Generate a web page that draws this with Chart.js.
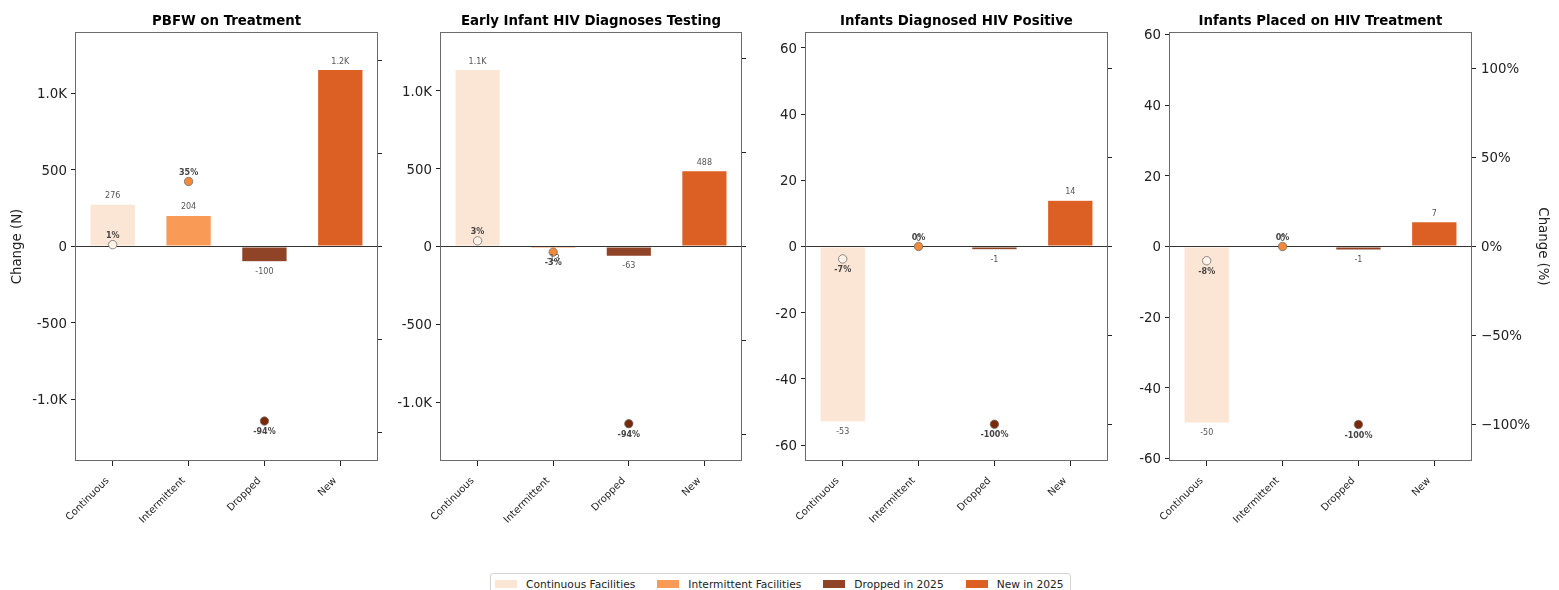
<!DOCTYPE html>
<html><head><meta charset="utf-8">
<script src="https://cdn.jsdelivr.net/npm/chart.js@4.4.1/dist/chart.umd.min.js"></script>
<style>
html,body{margin:0;padding:0;background:#fff;}
body{width:1559px;height:590px;position:relative;overflow:hidden;font-family:'DejaVu Sans',sans-serif;}
canvas{position:absolute;top:0;}
#legend{position:absolute;left:490px;top:573px;width:581px;height:30px;box-sizing:border-box;border:1px solid #d3d3d3;border-radius:3px;background:#fff;display:flex;align-items:center;padding:0 0 8px 4px;z-index:10;}
.item{display:flex;align-items:center;margin-right:22px;font-size:10.67px;color:#222;line-height:13px;white-space:nowrap;}
.patch{width:22px;height:8px;margin-right:9px;}
</style></head><body>
<div id="legend"></div>
<script>
// ---- data ----
const categories = ['Continuous', 'Intermittent', 'Dropped', 'New'];
const seriesNames = ['Continuous Facilities', 'Intermittent Facilities', 'Dropped in 2025', 'New in 2025'];
const panelTitles = ['PBFW on Treatment', 'Early Infant HIV Diagnoses Testing', 'Infants Diagnosed HIV Positive', 'Infants Placed on HIV Treatment'];

const pbfwChange = [276, 204, -100, 1157];
const pbfwPct = [1, 35, -94, null];
const eidChange = [1137, -13, -63, 488];
const eidPct = [3, -3, -94, null];
const posChange = [-53, 0, -1, 14];
const posPct = [-7, 0, -100, null];
const txChange = [-50, 0, -1, 7];
const txPct = [-8, 0, -100, null];

const countTicksLarge = [-1000, -500, 0, 500, 1000];
const countTicksSmall = [-60, -40, -20, 0, 20, 40, 60];
const pctTicks = [-100, -50, 0, 50, 100];

// ---- styles / layout ----
const barColors = ['#fbe5d4', '#f99b56', '#8f4427', '#dc5f24'];
const dotColors = ['#fef3e9', '#f5893a', '#7a2a08', '#dc5f24'];
const FONT = "'DejaVu Sans', sans-serif";

const panels = [
  {title: panelTitles[0], change: pbfwChange, pct: pbfwPct, ticks: countTicksLarge, cl: 0,    cr: 400,  al: 76,   ar: 377,  yMax: 1402, pMax: 115.5},
  {title: panelTitles[1], change: eidChange,  pct: eidPct,  ticks: countTicksLarge, cl: 385,  cr: 765,  al: 441,  ar: 741,  yMax: 1378, pMax: 113.8},
  {title: panelTitles[2], change: posChange,  pct: posPct,  ticks: countTicksSmall, cl: 750,  cr: 1130, al: 806,  ar: 1107, yMax: 64.8, pMax: 120.7},
  {title: panelTitles[3], change: txChange,   pct: txPct,   ticks: countTicksSmall, cl: 1115, cr: 1559, al: 1170, ar: 1471, yMax: 60.7, pMax: 120.5}
];

const fmtCount = v => Math.abs(v) >= 1000 ? (v / 1000).toFixed(1) + 'K' : String(Math.round(v));
const fmtPctTick = v => (v < 0 ? '\u2212' : '') + Math.abs(v) + '%';
const fmtPctLabel = v => Math.round(v) + '%';

const decor = {
  id: 'decor',
  afterDatasetDraw(chart, args) {
    if (args.meta.type !== 'bar') return;
    const {ctx, chartArea: a} = chart;
    const y0 = Math.round(chart.scales.y.getPixelForValue(0)) + 0.5;
    ctx.save();
    ctx.strokeStyle = '#333'; ctx.lineWidth = 1;
    ctx.beginPath(); ctx.moveTo(a.left, y0); ctx.lineTo(a.right, y0); ctx.stroke();
    ctx.restore();
  },
  afterDatasetsDraw(chart) {
    const {ctx} = chart;
    ctx.save();
    ctx.textAlign = 'center'; ctx.textBaseline = 'middle';
    chart.data.datasets.forEach((ds, di) => {
      const meta = chart.getDatasetMeta(di);
      meta.data.forEach((el, i) => {
        const v = ds.data[i].y;
        if (ds.type === 'bar') {
          ctx.font = '8px ' + FONT; ctx.fillStyle = '#555';
          ctx.fillText(fmtCount(v), el.x, v >= 0 ? el.y - 8 : el.y + 10);
        } else {
          ctx.font = 'bold 8px ' + FONT; ctx.fillStyle = '#444';
          ctx.fillText(fmtPctLabel(v), el.x, v >= 0 ? el.y - 8.5 : el.y + 11);
        }
      });
    });
    ctx.restore();
  },
  afterDraw(chart) {
    const {ctx, chartArea: a} = chart;
    ctx.save();
    ctx.strokeStyle = '#6b6b6b'; ctx.lineWidth = 1;
    ctx.strokeRect(Math.round(a.left) - 0.5, Math.round(a.top) + 0.5, Math.round(a.right - a.left) + 1, Math.round(a.bottom - a.top) - 1);
    ctx.restore();
  }
};

const tickGrid = {drawOnChartArea: false, drawTicks: true, tickLength: 5, color: '#222', lineWidth: 1, offset: false};

panels.forEach((pn, k) => {
  const cv = document.createElement('canvas');
  const W = pn.cr - pn.cl, H = 590;
  cv.width = W; cv.height = H;
  cv.style.left = pn.cl + 'px';
  cv.style.width = W + 'px'; cv.style.height = H + 'px';
  document.body.insertBefore(cv, document.getElementById('legend'));

  const barData = pn.change.map((v, i) => ({x: i, y: v}));
  const dotData = [], dotFill = [];
  pn.pct.forEach((v, i) => { if (v !== null) { dotData.push({x: i, y: v}); dotFill.push(dotColors[i]); } });

  const isLast = k === panels.length - 1;
  const leftW = pn.al - pn.cl, rightW = pn.cr - pn.ar;

  new Chart(cv, {
    type: 'bar',
    data: {
      datasets: [
        {type: 'bar', data: barData, xAxisID: 'x', yAxisID: 'y', backgroundColor: barColors,
         borderColor: 'rgba(255,255,255,0.5)', borderWidth: 0.6, borderSkipped: false,
         categoryPercentage: 1, barPercentage: 0.6, order: 2},
        {type: 'scatter', data: dotData, xAxisID: 'x', yAxisID: 'y2', pointRadius: 4.2,
         pointBackgroundColor: dotFill, pointBorderColor: '#707070', pointBorderWidth: 0.8, order: 1}
      ]
    },
    options: {
      responsive: false, animation: false, devicePixelRatio: 1,
      layout: {autoPadding: false, padding: 0},
      plugins: {
        legend: {display: false}, tooltip: {enabled: false},
        title: {display: true, text: pn.title, fullSize: false, color: '#000',
                font: {family: FONT, size: 13.33, weight: 'bold', lineHeight: 1.2}, padding: {top: 13.5, bottom: 2.5}},
        decor: {}
      },
      scales: {
        x: {
          type: 'linear', min: -0.484, max: 3.484, offset: false,
          border: {display: false}, grid: tickGrid,
          afterBuildTicks: s => { s.ticks = categories.map((c, i) => ({value: i})); },
          afterFit: s => { s.height = H - 461; },
          ticks: {autoSkip: false, maxRotation: 45, minRotation: 45, padding: 9, labelOffset: -5, color: '#222',
                  font: {family: FONT, size: 10}, callback: v => categories[Math.round(v)]}
        },
        y: {
          type: 'linear', position: 'left', min: -pn.yMax, max: pn.yMax,
          border: {display: false}, grid: tickGrid,
          afterBuildTicks: s => { s.ticks = pn.ticks.map(v => ({value: v})); },
          afterFit: s => { s.width = leftW; },
          ticks: {padding: 4, labelOffset: 1.5, color: '#222', font: {family: FONT, size: 13.33}, callback: v => fmtCount(v)},
          title: {display: k === 0, text: 'Change (N)', color: '#222', font: {family: FONT, size: 13.33, lineHeight: 1.2}, padding: {top: 10, bottom: 0}}
        },
        y2: {
          type: 'linear', position: 'right', min: -pn.pMax, max: pn.pMax,
          border: {display: false}, grid: tickGrid,
          afterBuildTicks: s => { s.ticks = pctTicks.map(v => ({value: v})); },
          afterFit: s => { s.width = rightW; },
          ticks: {display: isLast, padding: 5, labelOffset: 1.5, color: '#222', font: {family: FONT, size: 13.33}, callback: v => fmtPctTick(v)},
          title: {display: isLast, text: 'Change (%)', color: '#222', font: {family: FONT, size: 13.33, lineHeight: 1.2}, padding: {top: 8.7, bottom: 0}}
        }
      }
    },
    plugins: [decor]
  });
});

// legend
const lg = document.getElementById('legend');
seriesNames.forEach((n, i) => {
  const it = document.createElement('div'); it.className = 'item';
  const p = document.createElement('span'); p.className = 'patch'; p.style.background = barColors[i];
  const t = document.createElement('span'); t.textContent = n;
  it.appendChild(p); it.appendChild(t); lg.appendChild(it);
});
</script></body></html>
